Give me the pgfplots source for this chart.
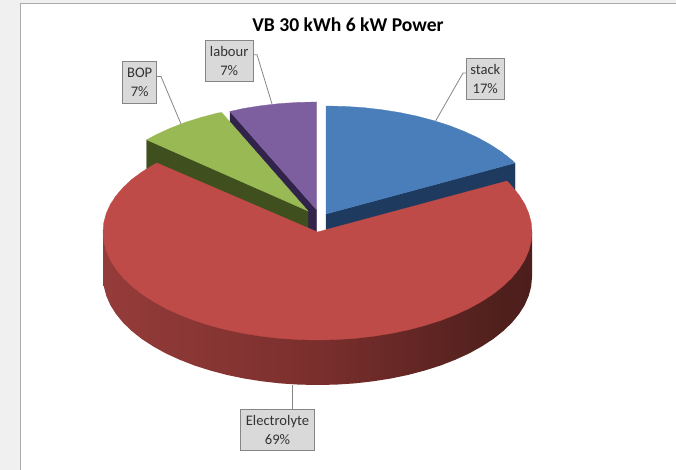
\documentclass[border=0pt]{standalone}
\usepackage{fontspec}
\setmainfont{Carlito}
\usepackage{pgfplots}
\pgfplotsset{compat=1.18}
\definecolor{bgout}{HTML}{F0F0F0}
\definecolor{frameg}{HTML}{ABABAB}
\definecolor{bluetop}{HTML}{4A7EBB}
\definecolor{blueside}{HTML}{1F3A5F}
\definecolor{redtop}{HTML}{BE4B48}
\definecolor{greentop}{HTML}{98B954}
\definecolor{greenside}{HTML}{3F501E}
\definecolor{purpletop}{HTML}{7D5FA0}
\definecolor{purpleside}{HTML}{31234A}
\definecolor{boxfill}{HTML}{D9D9D9}
\definecolor{leader}{HTML}{858585}
\definecolor{labeltext}{HTML}{333333}
\definecolor{rsa}{HTML}{A84444}
\definecolor{rsb}{HTML}{953C3A}
\definecolor{rsc}{HTML}{7A2F2D}
\definecolor{rsd}{HTML}{4E1F1C}
\definecolor{rse}{HTML}{491D1B}
\definecolor{rsf}{HTML}{5C2725}
\pgfdeclarehorizontalshading{redside}{100bp}{
  color(0bp)=(rsa);
  color(25bp)=(rsb);
  color(50bp)=(rsc);
  color(72bp)=(rsd);
  color(90bp)=(rse);
  color(100bp)=(rsf)}
\tikzset{lab/.style={draw=leader, fill=boxfill, line width=0.8pt, inner sep=0pt, align=center, text=labeltext, font=\fontsize{14.6}{19}\selectfont}}
\begin{document}
\begin{tikzpicture}
\begin{axis}[
  scale only axis, width=676pt, height=470pt,
  xmin=0, xmax=676, ymin=0, ymax=470, y dir=reverse,
  axis lines=none, clip=true,
]
% window frame
\addplot[fill=bgout, draw=none] coordinates {(0,0)(676,0)(676,3)(20,3)(20,470)(0,470)} -- cycle;
\addplot[draw=frameg, line width=1pt] coordinates {(20.5,470)(20.5,3.5)(676,3.5)};
% stack side + face (17%)
\addplot[fill=blueside, draw=blueside, line width=0.3pt] coordinates {(326,214)(326,259)(515,208)(515,163)} -- cycle;
\addplot[fill=bluetop, draw=bluetop, line width=0.3pt] coordinates {(326,214)(326,106)(344.7,106.4)(363.2,107.6)(381.6,109.7)(399.4,112.5)(416.7,116.1)(433.3,120.5)(449.1,125.5)(463.9,131.3)(477.7,137.6)(490.3,144.6)(501.7,152)(511.8,160)(515,163)} -- cycle;
% labour side + face (7%)
\addplot[fill=purpleside, draw=purpleside, line width=0.3pt] coordinates {(230,111.5)(230,156.5)(316.7,255)(316.7,210)} -- cycle;
\addplot[fill=purpletop, draw=purpletop, line width=0.3pt] coordinates {(316.7,210)(316.7,102)(298,102.4)(279.5,103.6)(261.1,105.7)(243.3,108.5)(230,111.5)} -- cycle;
% BOP side + face (7%)
\addplot[fill=greenside, draw=greenside, line width=0.3pt] coordinates {(146.7,139.8)(146.7,184.8)(308,256)(308,211)} -- cycle;
\addplot[fill=greentop, draw=greentop, line width=0.3pt] coordinates {(308,211)(221.7,112.5)(217.3,113.1)(200.7,117.5)(184.9,122.5)(170.1,128.3)(156.3,134.6)(146.7,139.8)} -- cycle;
% Electrolyte side (69%)
\addplot[shading=redside, draw=none] coordinates {(103,232)(103,277)(103.8,286.4)(106.3,295.8)(110.3,305)(115.9,313.9)(123.1,322.7)(131.7,331)(141.8,339)(153.2,346.4)(165.8,353.4)(179.6,359.7)(194.4,365.5)(210.2,370.5)(226.8,374.9)(244.1,378.5)(261.9,381.3)(280.3,383.4)(298.8,384.6)(317.5,385)(336.2,384.6)(354.7,383.4)(373.1,381.3)(390.9,378.5)(408.2,374.9)(424.8,370.5)(440.6,365.5)(455.4,359.7)(469.2,353.4)(481.8,346.4)(493.2,339)(503.3,331)(511.9,322.7)(519.1,313.9)(524.7,305)(528.7,295.8)(531.2,286.4)(532,277)(532,232)} -- cycle;
% Electrolyte face
\addplot[fill=redtop, draw=redtop, line width=0.3pt] coordinates {(317.5,232)(507,181)(511.9,186.3)(519.1,195.1)(524.7,204)(528.7,213.2)(531.2,222.6)(532,232)(531.2,241.4)(528.7,250.8)(524.7,260)(519.1,268.9)(511.9,277.7)(503.3,286)(493.2,294)(481.8,301.4)(469.2,308.4)(455.4,314.7)(440.6,320.5)(424.8,325.5)(408.2,329.9)(390.9,333.5)(373.1,336.3)(354.7,338.4)(336.2,339.6)(317.5,340)(298.8,339.6)(280.3,338.4)(261.9,336.3)(244.1,333.5)(226.8,329.9)(210.2,325.5)(194.4,320.5)(179.6,314.7)(165.8,308.4)(153.2,301.4)(141.8,294)(131.7,286)(123.1,277.7)(115.9,268.9)(110.3,260)(106.3,250.8)(103.8,241.4)(103,232)(103.8,222.6)(106.3,213.4)(110.3,204.5)(115.9,196)(123.1,187.5)(131.7,179.5)(141.8,172)(153.2,165)(157,163)} -- cycle;
% leaders
\addplot[leader, line width=0.8pt] coordinates {(466,73)(463,73)(435,122)};
\addplot[leader, line width=0.8pt] coordinates {(253,54.7)(257,54.7)(272.3,105)};
\addplot[leader, line width=0.8pt] coordinates {(156.7,76.5)(161,76.5)(181,124)};
\addplot[leader, line width=0.8pt] coordinates {(292.5,385)(292.5,409)};
% labels
\node[lab, minimum width=38.7pt, minimum height=40.6pt] at (axis cs:485.3,79) {stack\\17\%};
\node[lab, minimum width=48.3pt, minimum height=41pt] at (axis cs:229.2,60.5) {labour\\7\%};
\node[lab, minimum width=34pt, minimum height=41.3pt] at (axis cs:139.7,82.3) {BOP\\7\%};
\node[lab, minimum width=73.6pt, minimum height=41.3pt] at (axis cs:277.5,429.6) {Electrolyte\\69\%};
\node[font=\fontsize{19.6}{22}\selectfont\bfseries, text=black] at (axis cs:348,25) {VB 30 kWh 6 kW Power};
\end{axis}
\end{tikzpicture}
\end{document}
